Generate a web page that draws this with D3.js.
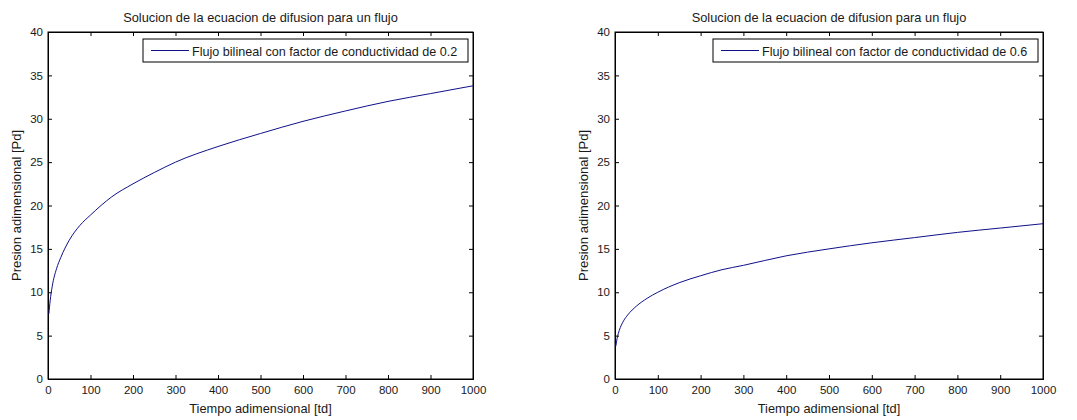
<!DOCTYPE html>
<html>
<head>
<meta charset="utf-8">
<script src="https://cdn.jsdelivr.net/npm/d3@7"></script>
<style>
  body { margin: 0; background: #fff; }
  text { font-family: "Liberation Sans", Arial, sans-serif; fill: #1a1a1a; }
</style>
</head>
<body>
<svg id="chart" width="1077" height="420"></svg>
<script>
// tiempo adimensional (td)
var tiempo = [2, 5, 10, 20, 30, 50, 75, 100, 150, 200, 250, 300, 400, 500, 600, 700, 800, 900, 1000];
// presion adimensional, factor de conductividad 0.2
var presion02 = [7.5, 9.0, 10.7, 12.7, 14.0, 16.0, 17.7, 18.9, 21.0, 22.5, 23.8, 25.0, 26.8, 28.3, 29.7, 30.9, 32.0, 32.9, 33.8];
// presion adimensional, factor de conductividad 0.6
var presion06 = [3.8, 4.7, 5.6, 6.7, 7.4, 8.4, 9.3, 10.0, 11.1, 11.9, 12.6, 13.1, 14.2, 15.0, 15.7, 16.3, 16.9, 17.4, 17.9];

var xTicks = [0, 100, 200, 300, 400, 500, 600, 700, 800, 900, 1000];
var yTicks = [0, 5, 10, 15, 20, 25, 30, 35, 40];

var svg = d3.select('#chart');

// draw one panel
function panel(left, right, values, factor)
{
  var top = 32, bottom = 379;
  var x = d3.scaleLinear().domain([0, 1000]).range([left, right]);
  var y = d3.scaleLinear().domain([0, 40]).range([bottom, top]);
  var g = svg.append('g');

  g.append('rect')
    .attr('x', left).attr('y', top)
    .attr('width', right - left).attr('height', bottom - top)
    .attr('fill', 'white').attr('stroke', 'black').attr('stroke-width', 1);

  g.append('g').attr('transform', 'translate(0,' + bottom + ')')
    .call(d3.axisBottom(x).tickValues(xTicks).tickSize(-4).tickPadding(7).tickFormat(d3.format('d')));
  g.append('g').attr('transform', 'translate(0,' + top + ')')
    .call(d3.axisTop(x).tickValues(xTicks).tickSize(-4).tickFormat(''));
  g.append('g').attr('transform', 'translate(' + left + ',0)')
    .call(d3.axisLeft(y).tickValues(yTicks).tickSize(-4).tickPadding(5));
  g.append('g').attr('transform', 'translate(' + right + ',0)')
    .call(d3.axisRight(y).tickValues(yTicks).tickSize(-4).tickFormat(''));

  g.selectAll('.domain').attr('stroke', 'black');
  g.selectAll('.tick line').attr('stroke', 'black');
  g.selectAll('.tick text').style('font-size', '11.5px').attr('fill', '#1a1a1a');

  var line = d3.line()
    .x(function (d, i) { return x(tiempo[i]); })
    .y(function (d) { return y(d); })
    .curve(d3.curveMonotoneX);

  g.append('path')
    .datum(values)
    .attr('d', line)
    .attr('fill', 'none')
    .attr('stroke', '#10108a')
    .attr('stroke-width', 1);

  var mid = (left + right) / 2;
  g.append('text')
    .attr('x', mid).attr('y', 21.5)
    .attr('text-anchor', 'middle')
    .style('font-size', '12.8px')
    .text('Solucion de la ecuacion de difusion para un flujo');

  g.append('text')
    .attr('x', mid).attr('y', 413)
    .attr('text-anchor', 'middle')
    .style('font-size', '12.8px')
    .text('Tiempo adimensional [td]');

  g.append('text')
    .attr('transform', 'translate(' + (left - 27) + ',' + ((top + bottom) / 2) + ') rotate(-90)')
    .attr('text-anchor', 'middle')
    .style('font-size', '13px')
    .text('Presion adimensional [Pd]');

  // legend
  var lx = right - 330, ly = 39;
  g.append('rect')
    .attr('x', lx).attr('y', ly)
    .attr('width', 325).attr('height', 23)
    .attr('fill', 'white').attr('stroke', 'black');
  g.append('line')
    .attr('x1', lx + 8).attr('x2', lx + 46)
    .attr('y1', ly + 11.5).attr('y2', ly + 11.5)
    .attr('stroke', '#10108a');
  g.append('text')
    .attr('x', lx + 49).attr('y', ly + 16.5)
    .style('font-size', '12.6px')
    .text('Flujo bilineal con factor de conductividad de ' + factor);
}

panel(48, 473, presion02, '0.2');
panel(615, 1043, presion06, '0.6');
</script>
</body>
</html>
